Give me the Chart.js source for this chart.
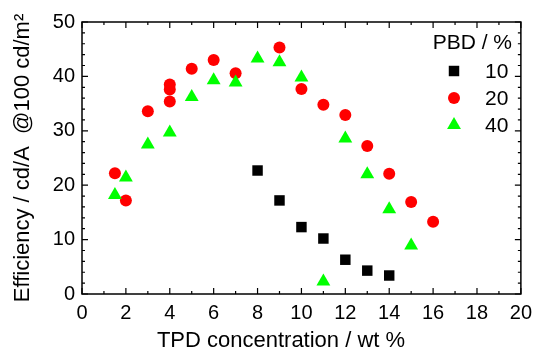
<!DOCTYPE html>
<html>
<head>
<meta charset="utf-8">
<script src="https://cdn.jsdelivr.net/npm/chart.js@4/dist/chart.umd.min.js"></script>
<style>
  html, body { margin: 0; padding: 0; background: #fff; }
  #wrap { width: 539px; height: 351px; }
</style>
</head>
<body>
<div id="wrap"><canvas id="myChart" width="539" height="351"></canvas></div>
<script>
var FONT = "'Liberation Sans', Arial, sans-serif";

// PBD = 10 %
var conc10 = [8, 9, 10, 11, 12, 13, 14];
var eff10 = [22.7, 17.2, 12.3, 10.2, 6.3, 4.3, 3.4];

// PBD = 20 %
var conc20 = [1.5, 2, 3, 4, 4, 4, 5, 6, 7, 9, 10, 11, 12, 13, 14, 15, 16];
var eff20 = [22.2, 17.2, 33.6, 38.5, 37.6, 35.4, 41.4, 43.0, 40.6, 45.3, 37.7, 34.8, 32.9, 27.2, 22.1, 16.9, 13.3];

// PBD = 40 %
var conc40 = [1.5, 2, 3, 4, 5, 6, 7, 8, 9, 10, 11, 12, 13, 14, 15];
var eff40 = [18.2, 21.4, 27.5, 29.7, 36.2, 39.3, 38.9, 43.3, 42.6, 39.8, 2.3, 28.6, 22.0, 15.6, 8.9];

var xTicks = [0, 2, 4, 6, 8, 10, 12, 14, 16, 18, 20];
var yTicks = [0, 10, 20, 30, 40, 50];

var xTitle = "TPD concentration / wt %";
var yTitle = "Efficiency / cd/A  @100 cd/m\u00B2";
var legendTitle = "PBD / %";
var seriesNames = ["10", "20", "40"];

function pts(xs, ys) {
  var out = [];
  for (var i = 0; i < xs.length; i++) {
    out.push({ x: xs[i], y: ys[i] });
  }
  return out;
}

// frame, inward ticks on all four sides, x title and the legend box
var framePlugin = {
  id: "frame",
  afterDraw: function (chart) {
    var ctx = chart.ctx;
    var a = chart.chartArea;
    var xs = chart.scales.x;
    var ys = chart.scales.y;
    ctx.save();
    ctx.strokeStyle = "#000";
    ctx.lineWidth = 1.5;
    ctx.strokeRect(a.left, a.top, a.right - a.left, a.bottom - a.top);

    ctx.lineWidth = 1.2;
    ctx.beginPath();
    for (var v = 0; v <= 20; v++) {
      var px = xs.getPixelForValue(v);
      var len = (v % 2 == 0) ? 6 : 3;
      ctx.moveTo(px, a.bottom); ctx.lineTo(px, a.bottom - len);
      ctx.moveTo(px, a.top); ctx.lineTo(px, a.top + len);
    }
    for (var w = 0; w <= 50; w += 2) {
      var py = ys.getPixelForValue(w);
      var len2 = (w % 10 == 0) ? 6 : 3;
      ctx.moveTo(a.left, py); ctx.lineTo(a.left + len2, py);
      ctx.moveTo(a.right, py); ctx.lineTo(a.right - len2, py);
    }
    ctx.stroke();

    // x axis title (sits a bit left of centre in the original)
    ctx.fillStyle = "#000";
    ctx.font = "22px " + FONT;
    ctx.textAlign = "center";
    ctx.textBaseline = "alphabetic";
    ctx.fillText(xTitle, 281, 347);

    // legend
    ctx.font = "21px " + FONT;
    ctx.textBaseline = "middle";
    ctx.textAlign = "right";
    ctx.fillText(legendTitle, 512, 43);
    ctx.textAlign = "left";
    var ds = chart.data.datasets;
    for (var i = 0; i < 3; i++) {
      var d = ds.find(function (s) { return s.label == seriesNames[i]; });
      var yy = 71 + i * 27;
      ctx.fillStyle = d.backgroundColor;
      ctx.strokeStyle = d.backgroundColor;
      Chart.helpers.drawPoint(ctx, {
        pointStyle: d.pointStyle, radius: d.pointRadius, borderWidth: 0, rotation: 0
      }, 454, yy);
      ctx.fillStyle = "#000";
      ctx.fillText(seriesNames[i], 485, yy + 1);
    }
    ctx.restore();
  }
};

new Chart("myChart", {
  type: "scatter",
  data: {
    datasets: [
      {
        label: "40",
        data: pts(conc40, eff40),
        pointStyle: "triangle",
        pointRadius: 8,
        backgroundColor: "#00FF00",
        borderColor: "#00FF00",
        borderWidth: 0,
        order: 0
      },
      {
        label: "20",
        data: pts(conc20, eff20),
        pointStyle: "circle",
        pointRadius: 6,
        backgroundColor: "#FF0000",
        borderColor: "#FF0000",
        borderWidth: 0,
        order: 1
      },
      {
        label: "10",
        data: pts(conc10, eff10),
        pointStyle: "rect",
        pointRadius: 7.4,
        backgroundColor: "#000000",
        borderColor: "#000000",
        borderWidth: 0,
        order: 2
      }
    ]
  },
  options: {
    responsive: false,
    animation: false,
    events: [],
    layout: { padding: { top: 22, right: 11, left: 0, bottom: 0 } },
    plugins: {
      legend: { display: false },
      tooltip: { enabled: false }
    },
    scales: {
      x: {
        type: "linear",
        min: 0,
        max: 20,
        afterBuildTicks: function (s) { s.ticks = xTicks.map(function (v) { return { value: v }; }); },
        afterFit: function (s) { s.height = 57; },
        grid: { display: false, drawTicks: false },
        border: { display: false },
        ticks: { color: "#000", padding: 7, maxRotation: 0, font: { family: FONT, size: 20 } },
        title: { display: false }
      },
      y: {
        type: "linear",
        min: 0,
        max: 50,
        afterBuildTicks: function (s) { s.ticks = yTicks.map(function (v) { return { value: v }; }); },
        afterFit: function (s) { s.width = 82; },
        grid: { display: false, drawTicks: false },
        border: { display: false },
        ticks: { color: "#000", padding: 7, font: { family: FONT, size: 20 } },
        title: {
          display: true,
          text: yTitle,
          color: "#000",
          padding: { top: 10, bottom: 0 },
          font: { family: FONT, size: 22 }
        }
      }
    }
  },
  plugins: [framePlugin]
});
</script>
</body>
</html>
